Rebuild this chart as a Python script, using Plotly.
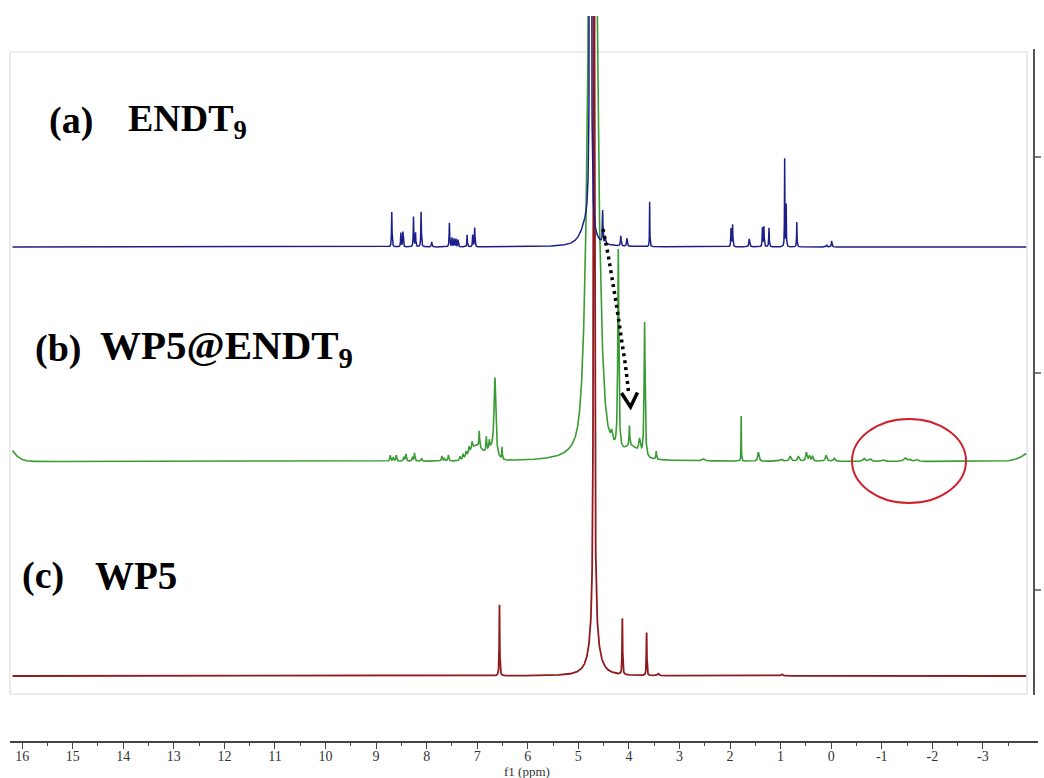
import numpy as np
import plotly.graph_objects as go

# ---------------- figure geometry ----------------
W, H = 1044, 778
ML, MR, MT, MB = 10, 6, 16, 37
PW, PH = W - ML - MR, H - MT - MB

X_RANGE = [16.24, -4.09]
Y_RANGE = [-0.303, 3.077]
STEP_INTENSITY = 214.5          # intensity units per stacking step

# ---------------- tick labels ----------------
tick_vals = list(range(16, -4, -1))
tick_text = [str(v) for v in tick_vals]
minor_vals = [v - 0.5 for v in range(17, -4, -1)]
x_title = "f1 (ppm)"

# ---------------- spectra as peak lists ----------------
ppm = np.arange(16.19, -3.86, -0.0025)

# (a) ENDT9  (Lorentzian lines: position ppm, height, half-width ppm)
a_pos = [8.69, 8.51, 8.47, 8.26, 8.22, 8.11, 7.90, 7.55, 7.50, 7.46, 7.42, 7.38,
         7.20, 7.09, 7.05, 4.76, 4.85, 4.52, 4.47, 4.16, 4.04, 3.59,
         1.98, 1.95, 1.62, 1.36, 1.33, 1.23, 0.92, 0.89, 0.68, 0.09, -0.01]
a_hgt = [35, 14, 15, 30, 14, 35, 5, 24, 9, 8, 8, 7,
         12, 12, 19, 2500, 20, 32, 7, 10, 8, 45,
         18, 22, 8, 19, 20, 19, 88, 42, 25, 2, 6]
a_wid = [0.006, 0.006, 0.006, 0.006, 0.006, 0.006, 0.008, 0.006, 0.006, 0.006, 0.006, 0.006,
         0.006, 0.006, 0.006, 0.007, 0.13, 0.006, 0.008, 0.008, 0.008, 0.004,
         0.006, 0.006, 0.01, 0.006, 0.006, 0.006, 0.004, 0.004, 0.005, 0.01, 0.008]

# (b) WP5@ENDT9  (sharp Lorentzian lines)
b_pos = [8.72, 8.66, 8.60, 8.45, 8.41, 8.28, 8.24, 8.10, 7.70, 7.65, 7.57,
         7.34, 7.28, 7.22, 7.16, 7.10, 6.96, 6.82, 6.76, 6.65, 6.51,
         4.715, 4.34, 4.21, 3.99, 3.79, 3.69, 3.46, 2.53,
         1.78, 1.44, 0.99, 0.81, 0.65, 0.49, 0.43, 0.37, 0.10, -0.06,
         -0.65, -0.77, -1.03, -1.46, -1.55, -1.69]
b_hgt = [6, 4, 6, 4, 7, 4, 8, 3, 5, 3, 6,
         4, 5, 5, 6, 7, 16, 14, 8, 76, 12,
         1800, 10, 200, 20, 14, 135, 8, 2,
         45, 9, 2, 5, 5, 9, 5, 5, 6, 3,
         3, 2.5, 1.5, 3.5, 2, 2]
b_wid = [0.01, 0.01, 0.01, 0.01, 0.01, 0.01, 0.01, 0.01, 0.01, 0.01, 0.01,
         0.01, 0.01, 0.01, 0.01, 0.01, 0.008, 0.008, 0.008, 0.02, 0.006,
         0.04, 0.02, 0.012, 0.008, 0.02, 0.012, 0.008, 0.03,
         0.004, 0.015, 0.03, 0.02, 0.02, 0.015, 0.015, 0.015, 0.02, 0.02,
         0.025, 0.025, 0.03, 0.03, 0.03, 0.03]
# (b) broad Gaussian humps: position, height, sigma
b_hump_pos = [16.50, 7.02, 6.72, 4.715, 3.95, -4.30]
b_hump_hgt = [31, 15, 10, 215, 10, 23]
b_hump_sig = [0.214, 0.13, 0.08, 0.104, 0.12, 0.304]

# (c) WP5
c_pos = [6.56, 4.69, 4.69, 4.13, 3.65, 3.42, 0.98]
c_hgt = [71, 1500, 50, 56, 43, 2, 2]
c_wid = [0.006, 0.008, 0.092, 0.006, 0.006, 0.02, 0.02]

OFFSETS = {"a": 2.0, "b": 1.0, "c": 0.0}


def lorentz_sum(x, pos, hgt, wid):
    y = np.zeros_like(x)
    for p, h, w in zip(pos, hgt, wid):
        y += h * w * w / ((x - p) ** 2 + w * w)
    return y


def gauss_sum(x, pos, hgt, sig):
    y = np.zeros_like(x)
    for p, h, s in zip(pos, hgt, sig):
        y += h * np.exp(-((x - p) ** 2) / (2 * s * s))
    return y


spec_a = OFFSETS["a"] + lorentz_sum(ppm, a_pos, a_hgt, a_wid) / STEP_INTENSITY
spec_b = OFFSETS["b"] + (lorentz_sum(ppm, b_pos, b_hgt, b_wid)
                         + gauss_sum(ppm, b_hump_pos, b_hump_hgt, b_hump_sig)) / STEP_INTENSITY
spec_c = OFFSETS["c"] + lorentz_sum(ppm, c_pos, c_hgt, c_wid) / STEP_INTENSITY

# ---------------- helpers for decorations (pixel -> axis / paper) ----------------
def px_to_ppm(px):
    return X_RANGE[0] + (px - ML) / PW * (X_RANGE[1] - X_RANGE[0])


def py_to_y(py):
    return Y_RANGE[1] - (py - MT) / PH * (Y_RANGE[1] - Y_RANGE[0])


def px_to_paper(px):
    return (px - ML) / PW


def py_to_paper(py):
    return (H - MB - py) / PH


fig = go.Figure()
fig.add_trace(go.Scatter(x=ppm, y=spec_c, mode="lines", line=dict(color="#8e1c1f", width=1.8),
                         name="WP5", hoverinfo="skip"))
fig.add_trace(go.Scatter(x=ppm, y=spec_b, mode="lines", line=dict(color="#3a9b35", width=1.6),
                         name="WP5@ENDT9", hoverinfo="skip"))
fig.add_trace(go.Scatter(x=ppm, y=spec_a, mode="lines", line=dict(color="#1c1f8a", width=1.5),
                         name="ENDT9", hoverinfo="skip"))

shapes = []
# light gray frame
shapes.append(dict(type="rect", xref="paper", yref="paper",
                   x0=px_to_paper(10), x1=px_to_paper(1027),
                   y0=py_to_paper(694), y1=py_to_paper(52),
                   line=dict(color="#dcdcdc", width=1.2), layer="below"))
# right intensity axis
shapes.append(dict(type="line", xref="paper", yref="paper",
                   x0=px_to_paper(1034), x1=px_to_paper(1034),
                   y0=py_to_paper(695), y1=py_to_paper(49),
                   line=dict(color="#555555", width=2)))
for ty in [157, 373, 590]:
    shapes.append(dict(type="line", xref="paper", yref="paper",
                       x0=px_to_paper(1034), x1=px_to_paper(1041),
                       y0=py_to_paper(ty), y1=py_to_paper(ty),
                       line=dict(color="#555555", width=1.5)))

# dotted arrow
arrow_px = [(603, 229), (605, 239), (608, 254), (612, 278), (616, 302), (619, 322),
            (622, 343), (625, 362), (627, 378), (628.5, 392)]
path = "M " + " L ".join(f"{px_to_ppm(x):.4f},{py_to_y(y):.4f}" for x, y in arrow_px)
shapes.append(dict(type="path", xref="x", yref="y", path=path,
                   line=dict(color="black", width=3.5, dash="3px,4px")))
head_px = [(621.5, 393), (630.5, 407), (637.5, 392.5)]
head = "M " + " L ".join(f"{px_to_ppm(x):.4f},{py_to_y(y):.4f}" for x, y in head_px)
shapes.append(dict(type="path", xref="x", yref="y", path=head,
                   line=dict(color="black", width=3.5)))

# red ellipse
shapes.append(dict(type="circle", xref="x", yref="y",
                   x0=px_to_ppm(852), x1=px_to_ppm(966),
                   y0=py_to_y(503), y1=py_to_y(419),
                   line=dict(color="#d0202a", width=2)))

annotations = []
for lbl, name, x_l, x_n, yc, nsize in [("(a)", "ENDT<sub>9</sub>", 47, 126, 121, 38),
                                        ("(b)", "WP5@ENDT<sub>9</sub>", 33, 98, 348, 41),
                                        ("(c)", "WP5", 20, 93, 575, 39)]:
    annotations.append(dict(text=f"<b>{lbl}</b>", x=px_to_paper(x_l), y=py_to_paper(yc),
                            xref="paper", yref="paper", xanchor="left", yanchor="middle",
                            showarrow=False,
                            font=dict(family="Liberation Serif, Times New Roman, serif",
                                      size=38, color="black")))
    annotations.append(dict(text=f"<b>{name}</b>", x=px_to_paper(x_n), y=py_to_paper(yc),
                            xref="paper", yref="paper", xanchor="left", yanchor="middle",
                            showarrow=False,
                            font=dict(family="Liberation Serif, Times New Roman, serif",
                                      size=nsize, color="black")))

axis_font = dict(family="Liberation Serif, serif", size=14, color="#333333")
# x-axis title placed as text below the tick labels
annotations.append(dict(text=x_title, x=px_to_paper(527), y=py_to_paper(771),
                        xref="paper", yref="paper", xanchor="center", yanchor="middle",
                        showarrow=False,
                        font=dict(family="Liberation Serif, serif", size=13, color="#333333")))

fig.update_layout(
    width=W, height=H,
    margin=dict(l=ML, r=MR, t=MT, b=MB, autoexpand=False),
    paper_bgcolor="white", plot_bgcolor="white",
    showlegend=False,
    shapes=shapes,
    annotations=annotations,
    xaxis=dict(range=X_RANGE, showgrid=False, zeroline=False,
               showline=True, linecolor="#444444", linewidth=1.5,
               ticks="outside", ticklen=6, tickwidth=1.3, tickcolor="#444444",
               tickmode="array", tickvals=tick_vals, ticktext=tick_text,
               tickfont=axis_font, ticklabelstandoff=-5,
               minor=dict(tickmode="array", tickvals=minor_vals, ticks="outside",
                          ticklen=3, tickwidth=1, tickcolor="#444444"),
               automargin=False),
    yaxis=dict(range=Y_RANGE, visible=False, showgrid=False, zeroline=False),
)

fig.write_html("out.html")
